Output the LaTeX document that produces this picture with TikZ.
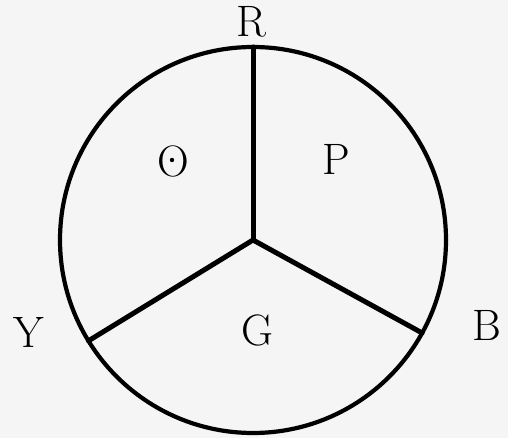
\documentclass[tikz,border=0pt]{standalone}
\usepackage{amsmath}
\usepackage{amssymb}
\usetikzlibrary{calc}

\tikzset{
  letter/.style={font=\fontsize{44}{44}\selectfont, inner sep=0pt},
  rim/.style={line width=4.2pt},
  spoke/.style={line width=5pt, line cap=round}
}

\begin{document}
\begin{tikzpicture}[x=1pt,y=1pt]
\useasboundingbox (0,0) rectangle (508,438);
\fill[white!96!black] (0,0) rectangle (508,438);
\coordinate (c) at (253,198);
\draw[rim] (c) circle (193);
\coordinate (r) at ($(c)+(90:193)$);
\coordinate (y) at ($(c)+(211.5:193)$);
\coordinate (b) at ($(c)+(331.2:193)$);
\foreach \p in {r,y,b} {
    \draw[spoke] (c) -- (\p);
}
\node[letter] (lr) at (251,416) {R};
\node[letter] (ly) at (29,106) {Y};
\node[letter] (lb) at (487,113) {B};
\node[letter] (lo) at (173,277) {O};
\fill ($(lo.center)+(-1,1)$) circle (2.2);
\node[letter] (lp) at (336,279) {P};
\node[letter] (lg) at (257,108) {G};
\end{tikzpicture}
\end{document}
